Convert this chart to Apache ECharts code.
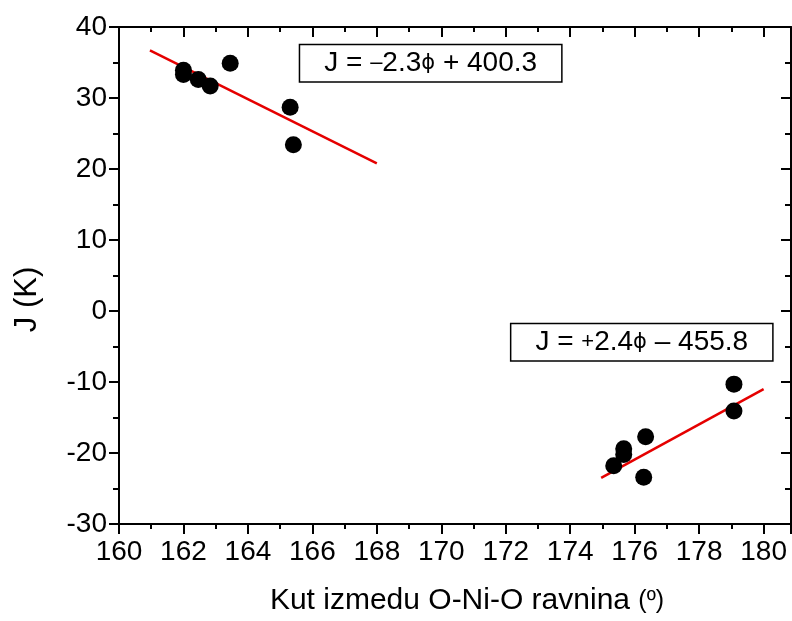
<!DOCTYPE html>
<html>
<head>
<meta charset="utf-8">
<script src="https://cdn.jsdelivr.net/npm/echarts@6/dist/echarts.min.js"></script>
<style>
  html, body { margin: 0; padding: 0; background: #fff; }
  #chart { width: 792px; height: 621px; }
</style>
</head>
<body>
<div id="chart"></div>
<script>
// angle between O-Ni-O planes (deg) and exchange J (K)
var angleLow = [162.0, 162.0, 162.46, 162.83, 163.45, 165.31, 165.41];
var jLow = [33.9, 33.3, 32.6, 31.7, 34.9, 28.7, 23.4];
var angleHigh = [175.35, 175.66, 175.66, 176.34, 176.28, 179.08, 179.08];
var jHigh = [-21.8, -19.4, -20.2, -17.7, -23.4, -14.1, -10.3];

// fitted lines, end points as drawn
var fitLowX = [160.96, 168.0];
var fitLowY = [36.7, 20.8];
var fitHighX = [174.96, 180.0];
var fitHighY = [-23.5, -11.0];

var xTicks = { min: 160, max: 180.85, interval: 2 };
var yTicks = { min: -30, max: 40, interval: 10 };

var eqLow = ['J = ', '\u2013', '2.3', '\u03d5', ' + 400.3'];
var eqHigh = ['J = ', '+', '2.4', '\u03d5', ' \u2013 455.8'];
var eqLowAt = [169.67, 34.9];
var eqHighAt = [176.22, -4.4];

function pairs(xs, ys) {
    return xs.map(function (x, i) { return [x, ys[i]]; });
}
function eqText(p) {
    return '{a|' + p[0] + '}{s|' + p[1] + '}{a|' + p[2] + '}{p|' + p[3] + '}{a|' + p[4] + '}';
}

var font = 'Liberation Sans, Arial, sans-serif';
var axisLine = { show: true, onZero: false, lineStyle: { color: '#000', width: 2 } };

var myChart = echarts.init(document.getElementById('chart'));
var eqLabel = {
    show: true,
    position: 'inside',
    color: '#000',
    opacity: 1,
    backgroundColor: '#fff',
    borderColor: '#000',
    borderWidth: 1.5,
    padding: [4, 24],
    rich: {
        a: { fontFamily: font, fontSize: 28, color: '#000' },
        s: { fontFamily: font, fontSize: 22, color: '#000' },
        p: { fontFamily: 'DejaVu Sans', fontSize: 21, color: '#000' }
    }
};

var option = {
    animation: false,
    backgroundColor: '#fff',
    grid: {
        left: 119,
        right: 1,
        top: 27,
        bottom: 96
    },
    xAxis: [
        {
            type: 'value',
            position: 'bottom',
            min: xTicks.min,
            max: xTicks.max,
            interval: xTicks.interval,
            name: 'Kut izmedu O-Ni-O ravnina {d|(\u00ba)}',
            nameLocation: 'middle',
            nameGap: 62,
            nameTextStyle: {
                fontFamily: font,
                fontSize: 30,
                color: '#000',
                padding: [0, 0, 0, 24],
                rich: { d: { fontFamily: font, fontSize: 25, color: '#000' } }
            },
            axisLine: axisLine,
            axisTick: { show: true, length: 10, lineStyle: { color: '#000', width: 2 } },
            minorTick: { show: true, splitNumber: 2, length: 5, lineStyle: { color: '#000', width: 2 } },
            splitLine: { show: false },
            axisLabel: {
                fontFamily: font,
                fontSize: 28,
                color: '#000',
                margin: 14,
                showMaxLabel: false
            }
        },
        {
            type: 'value',
            position: 'top',
            min: xTicks.min,
            max: xTicks.max,
            interval: xTicks.interval,
            axisLine: axisLine,
            axisTick: { show: true, inside: true, length: 10, lineStyle: { color: '#000', width: 2 } },
            minorTick: { show: true, splitNumber: 2, length: 5, lineStyle: { color: '#000', width: 2 } },
            splitLine: { show: false },
            axisLabel: { show: false }
        }
    ],
    yAxis: [
        {
            type: 'value',
            position: 'left',
            min: yTicks.min,
            max: yTicks.max,
            interval: yTicks.interval,
            name: 'J (K)',
            nameLocation: 'middle',
            nameGap: 76,
            nameTextStyle: {
                fontFamily: font,
                fontSize: 31,
                color: '#000',
                padding: [0, 48, 0, 0]
            },
            axisLine: axisLine,
            axisTick: { show: true, length: 10, lineStyle: { color: '#000', width: 2 } },
            minorTick: { show: true, splitNumber: 2, length: 6, lineStyle: { color: '#000', width: 2 } },
            splitLine: { show: false },
            minorSplitLine: { show: false },
            axisLabel: { fontFamily: font, fontSize: 28, color: '#000', margin: 12 }
        },
        {
            type: 'value',
            position: 'right',
            min: yTicks.min,
            max: yTicks.max,
            interval: yTicks.interval,
            axisLine: axisLine,
            axisTick: { show: true, inside: true, length: 10, lineStyle: { color: '#000', width: 2 } },
            minorTick: { show: true, splitNumber: 2, length: 6, lineStyle: { color: '#000', width: 2 } },
            splitLine: { show: false },
            axisLabel: { show: false }
        }
    ],
    series: [
        {
            type: 'line',
            data: pairs(fitLowX, fitLowY),
            showSymbol: false,
            lineStyle: { color: '#e50000', width: 2.5 },
            z: 3
        },
        {
            type: 'line',
            data: pairs(fitHighX, fitHighY),
            showSymbol: false,
            lineStyle: { color: '#e50000', width: 2.5 },
            z: 3
        },
        {
            type: 'scatter',
            data: pairs(angleLow, jLow),
            symbolSize: 17,
            itemStyle: { color: '#000', opacity: 1 },
            z: 4
        },
        {
            type: 'scatter',
            data: pairs(angleHigh, jHigh),
            symbolSize: 17,
            itemStyle: { color: '#000', opacity: 1 },
            z: 4
        },
        {
            type: 'scatter',
            data: [eqLowAt],
            symbolSize: 0,
            silent: true,
            itemStyle: { opacity: 1 },
            label: Object.assign({ formatter: eqText(eqLow) }, eqLabel),
            z: 5
        },
        {
            type: 'scatter',
            data: [eqHighAt],
            symbolSize: 0,
            silent: true,
            itemStyle: { opacity: 1 },
            label: Object.assign({ formatter: eqText(eqHigh) }, eqLabel),
            z: 5
        }
    ]
};

myChart.setOption(option);
</script>
</body>
</html>
